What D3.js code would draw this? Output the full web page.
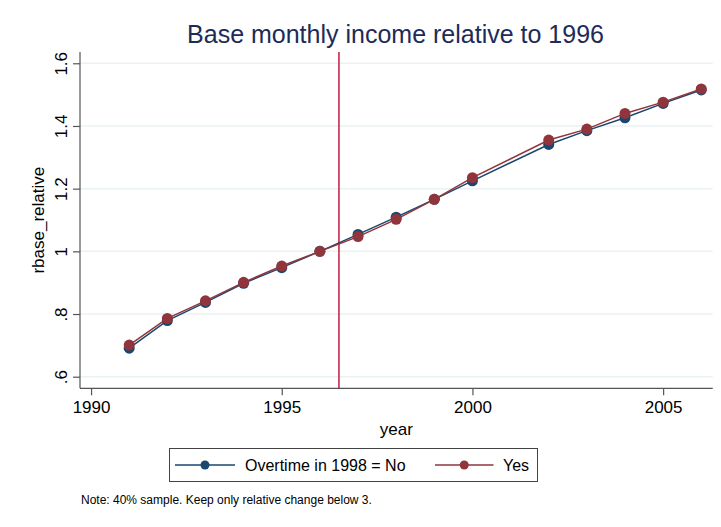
<!DOCTYPE html>
<html>
<head>
<meta charset="utf-8">
<script src="https://cdn.jsdelivr.net/npm/d3@7"></script>
<style>
  html, body { margin: 0; padding: 0; background: #fff; }
  svg { display: block; font-family: "Liberation Sans", Arial, Helvetica, sans-serif; }
</style>
</head>
<body>
<svg id="chart" width="721" height="527"></svg>
<script>
// ---- data ----
const years = [1991, 1992, 1993, 1994, 1995, 1996, 1997, 1998, 1999, 2000, 2002, 2003, 2004, 2005, 2006];
const overtimeNo  = [0.691, 0.779, 0.837, 0.898, 0.948, 1.000, 1.054, 1.109, 1.166, 1.225, 1.341, 1.385, 1.426, 1.472, 1.515];
const overtimeYes = [0.701, 0.786, 0.842, 0.901, 0.953, 1.000, 1.047, 1.102, 1.166, 1.235, 1.355, 1.390, 1.440, 1.476, 1.518];
const xTicks = [1990, 1995, 2000, 2005];
const yTicks = [0.6, 0.8, 1.0, 1.2, 1.4, 1.6];
const yTickLabels = [".6", ".8", "1", "1.2", "1.4", "1.6"];
const refYear = 1996.5;
const seriesNames = ["Overtime in 1998 = No", "Yes"];
const seriesColors = ["#1a476f", "#90353b"];

const titleText = "Base monthly income relative to 1996";
const xTitle = "year";
const yTitle = "rbase_relative";
const noteText = "Note: 40% sample. Keep only relative change below 3.";

// ---- layout ----
const svg = d3.select("#chart");
const pLeft = 80, pRight = 712.7, pTop = 52, pBottom = 388.3;

const x = d3.scaleLinear().domain([1989.71, 2006.3]).range([pLeft, pRight]);
const y = d3.scaleLinear().domain([0.563, 1.636]).range([pBottom, pTop]);

// grid
svg.append("g").selectAll("line").data(yTicks).join("line")
  .attr("x1", pLeft).attr("x2", pRight)
  .attr("y1", d => y(d)).attr("y2", d => y(d))
  .attr("stroke", "#eaf2f3").attr("stroke-width", 1.5);

// reference line
svg.append("line")
  .attr("x1", x(refYear)).attr("x2", x(refYear))
  .attr("y1", pTop).attr("y2", pBottom)
  .attr("stroke", "#c8183f").attr("stroke-width", 1.5);

// y axis
const yAxis = d3.axisLeft(y).tickValues(yTicks)
  .tickFormat((d, i) => yTickLabels[i]).tickSize(7).tickPadding(5);
const gy = svg.append("g").attr("transform", `translate(${pLeft},0)`).call(yAxis);
gy.select(".domain").remove();
gy.append("line").attr("x1", 0).attr("x2", 0).attr("y1", pTop).attr("y2", pBottom)
  .attr("stroke", "#555").attr("stroke-width", 1.2);
gy.selectAll(".tick line").attr("stroke", "#555").attr("stroke-width", 1.2);
gy.selectAll(".tick text")
  .attr("font-size", 17).attr("fill", "#000")
  .attr("text-anchor", "middle").attr("dy", null)
  .attr("x", 0).attr("y", 0)
  .attr("transform", "translate(-13.5,0) rotate(-90)");

// x axis
const xAxis = d3.axisBottom(x).tickValues(xTicks).tickFormat(d3.format("d")).tickSize(7).tickPadding(6);
const gx = svg.append("g").attr("transform", `translate(0,${pBottom})`).call(xAxis);
gx.select(".domain").remove();
gx.append("line").attr("x1", pLeft).attr("x2", pRight).attr("y1", 0).attr("y2", 0)
  .attr("stroke", "#555").attr("stroke-width", 1.2);
gx.selectAll(".tick line").attr("stroke", "#555").attr("stroke-width", 1.2);
gx.selectAll(".tick text").attr("font-size", 17).attr("fill", "#000");

// series
const seriesData = [overtimeNo, overtimeYes];
const line = d3.line().x(d => x(d[0])).y(d => y(d[1]));
seriesData.forEach((vals, si) => {
  const pts = years.map((yr, i) => [yr, vals[i]]);
  const g = svg.append("g");
  g.append("path").datum(pts).attr("d", line)
    .attr("fill", "none").attr("stroke", seriesColors[si]).attr("stroke-width", 1.5);
  g.selectAll("circle").data(pts).join("circle")
    .attr("cx", d => x(d[0])).attr("cy", d => y(d[1])).attr("r", 5.5)
    .attr("fill", seriesColors[si]);
});

// title
svg.append("text").attr("x", 395.5).attr("y", 43)
  .attr("text-anchor", "middle").attr("font-size", 25).attr("fill", "#1c2b58")
  .text(titleText);

// axis titles
svg.append("text").attr("x", (pLeft + pRight) / 2).attr("y", 435)
  .attr("text-anchor", "middle").attr("font-size", 17).attr("fill", "#000")
  .text(xTitle);
svg.append("text")
  .attr("transform", `translate(44,${(pTop + pBottom) / 2}) rotate(-90)`)
  .attr("text-anchor", "middle").attr("font-size", 17).attr("fill", "#000")
  .text(yTitle);

// legend
const lg = svg.append("g");
lg.append("rect").attr("x", 169.5).attr("y", 448.5).attr("width", 368).attr("height", 33)
  .attr("fill", "#fff").attr("stroke", "#444").attr("stroke-width", 1);
const legendItems = [
  { x1: 175, x2: 235, text: 245 },
  { x1: 435, x2: 493.5, text: 503 }
];
legendItems.forEach((it, i) => {
  lg.append("line").attr("x1", it.x1).attr("x2", it.x2).attr("y1", 465).attr("y2", 465)
    .attr("stroke", seriesColors[i]).attr("stroke-width", 1.5);
  lg.append("circle").attr("cx", (it.x1 + it.x2) / 2).attr("cy", 465).attr("r", 4.5)
    .attr("fill", seriesColors[i]);
  lg.append("text").attr("x", it.text).attr("y", 471).attr("font-size", 16)
    .attr("fill", "#000").text(seriesNames[i]);
});

// note
svg.append("text").attr("x", 81).attr("y", 504).attr("font-size", 12).attr("fill", "#000")
  .text(noteText);
</script>
</body>
</html>
